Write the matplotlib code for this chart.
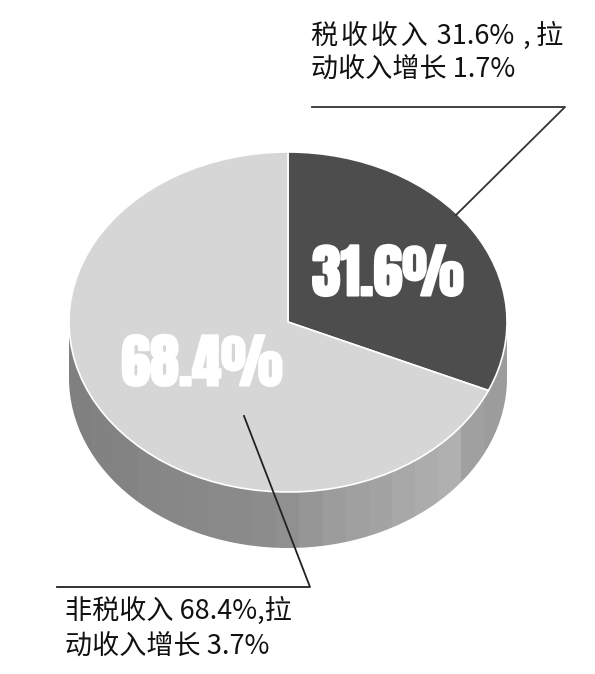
from matplotlib import pyplot as plt
from matplotlib.patches import Ellipse, Rectangle
import matplotlib.patheffects as pe
import numpy as np

plt.rcParams['font.family'] = ['Noto Sans CJK SC', 'DejaVu Sans']

W, H = 595, 674

# data
shares = [31.6, 68.4]
share_labels = ["31.6%", "68.4%"]
share_colors = ["#4d4d4d", "#d6d6d6"]
note_tax = ["税\u200a收\u200a收\u200a入\u200a 31.6%\u200a ,\u200a\u200a拉", "动收入增长 1.7%"]
note_nontax = ["非税收入 68.4%,拉", "动收入增长 3.7%"]
# side wall shades, left to right
side_shades = [128, 130, 132, 134, 135, 136, 137, 138, 140, 144, 150, 156, 160, 164, 168, 172, 176, 160, 156]

big_font = ["Anton", "Special Gothic Condensed One", "Liberation Sans"]

fig = plt.figure(figsize=(W / 100, H / 100), dpi=100)

# pixel axes for the text and leader lines
bg = fig.add_axes([0, 0, 1, 1])
bg.set_xlim(0, W)
bg.set_ylim(H, 0)
bg.axis("off")
bg.set_zorder(3)

# pie axes, stretched so the circle turns into an ellipse
cx, cy, rx, ry, depth = 288, 322, 219, 170, 56
bottom = cy + ry + depth
ax = fig.add_axes([(cx - rx) / W, 1 - bottom / H, 2 * rx / W, (2 * ry + depth) / H])
d = depth / ry

# side wall: lower half ellipse plus the body above it
wall = np.array(side_shades)[np.newaxis, :]
for part in (Ellipse((0, -d), 2, 2), Rectangle((-1, -d), 2, d)):
    part.set(fc="none", ec="none")
    ax.add_patch(part)
    im = ax.imshow(wall, cmap="gray", vmin=0, vmax=255, aspect="auto",
                   extent=(-1, 1, -1 - d, 1), interpolation="nearest")
    im.set_clip_path(part)

# top face
wedges, _ = ax.pie(shares, colors=share_colors, startangle=90, counterclock=False,
                   radius=1, wedgeprops=dict(ec="white", lw=1.2))
ax.set_aspect("auto")
ax.set_xlim(-1, 1)
ax.set_ylim(-1 - d, 1)
ax.axis("off")

# leader lines
bg.plot([312, 565, 456], [107, 107, 215], color="#333333", lw=1.3)
bg.plot([57, 310, 244], [587, 587, 416], color="#222222", lw=1.3)

# big numbers
stroke = [pe.withStroke(linewidth=1.5, foreground="white")]
bg.text(388, 274, share_labels[0], color="white", fontsize=42, family=big_font,
        ha="center", va="center", path_effects=stroke)
bg.text(202, 364, share_labels[1], color="white", fontsize=42, family=big_font,
        ha="center", va="center", path_effects=stroke)

# notes
bg.text(311, 36, note_tax[0], fontsize=19.5, color="#111111", va="center", ha="left")
bg.text(311, 70, note_tax[1], fontsize=19.5, color="#111111", va="center", ha="left")
bg.text(65, 611, note_nontax[0], fontsize=19.5, color="#111111", va="center", ha="left")
bg.text(65, 647, note_nontax[1], fontsize=19.5, color="#111111", va="center", ha="left")

fig.savefig("out.png", dpi=100, facecolor="white")
